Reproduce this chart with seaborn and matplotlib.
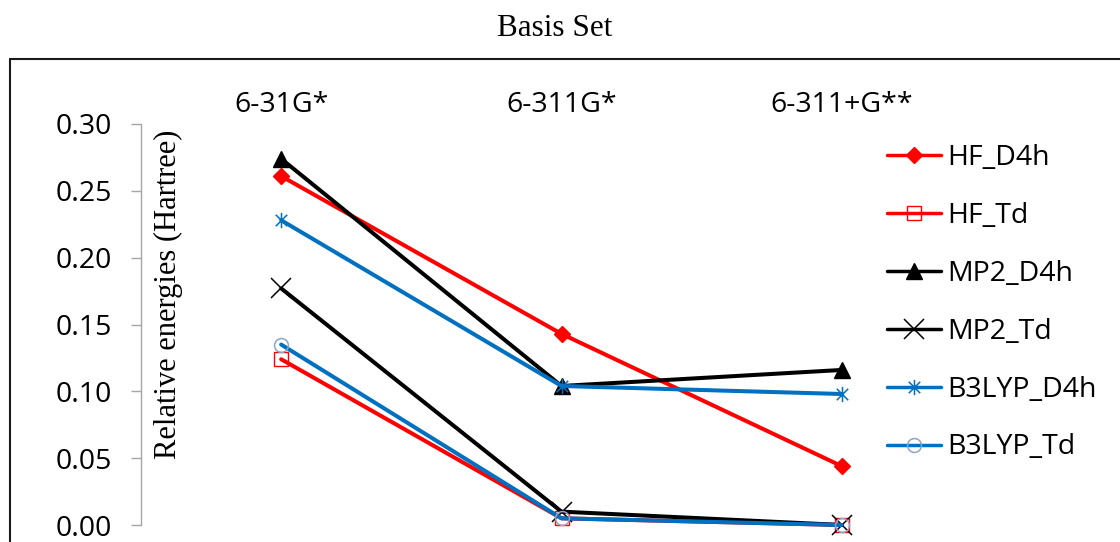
import matplotlib
matplotlib.use("Agg")
import matplotlib.pyplot as plt
from matplotlib.lines import Line2D
from matplotlib.path import Path
import seaborn as sns

# Basis sets (categories along the top axis)
basis_sets = ["6-31G*", "6-311G*", "6-311+G**"]

# Relative energies (Hartree) per method / symmetry
hf_d4h = [0.261, 0.143, 0.044]
hf_td = [0.124, 0.005, 0.000]
mp2_d4h = [0.274, 0.104, 0.116]
mp2_td = [0.177, 0.010, 0.000]
b3lyp_d4h = [0.228, 0.104, 0.098]
b3lyp_td = [0.135, 0.005, 0.000]

y_ticks = [0.00, 0.05, 0.10, 0.15, 0.20, 0.25, 0.30]

sns.set_theme(style="white")
plt.rcParams["font.family"] = ["Open Sans", "DejaVu Sans"]
plt.rcParams["text.color"] = "black"

RED = "#FF0000"
BLUE = "#0070C0"
BLACK = "#000000"
TXT = 20.5

# asterisk marker: an X crossed by a vertical bar
star = Path(
    [(-0.75, -0.75), (0.75, 0.75), (-0.75, 0.75), (0.75, -0.75), (0, -1.0), (0, 1.0)],
    [Path.MOVETO, Path.LINETO, Path.MOVETO, Path.LINETO, Path.MOVETO, Path.LINETO],
)

series = [
    ("HF_D4h", hf_d4h, dict(color=RED, marker="D", markersize=8,
                            markerfacecolor=RED, markeredgecolor=RED, markeredgewidth=1)),
    ("HF_Td", hf_td, dict(color=RED, marker="s", markersize=10,
                          markerfacecolor="none", markeredgecolor=RED, markeredgewidth=1)),
    ("MP2_D4h", mp2_d4h, dict(color=BLACK, marker="^", markersize=11,
                              markerfacecolor=BLACK, markeredgecolor=BLACK, markeredgewidth=1)),
    ("MP2_Td", mp2_td, dict(color=BLACK, marker="x", markersize=14,
                            markerfacecolor=BLACK, markeredgecolor=BLACK, markeredgewidth=1.1)),
    ("B3LYP_D4h", b3lyp_d4h, dict(color=BLUE, marker=star, markersize=11,
                                  markerfacecolor=BLUE, markeredgecolor=BLUE, markeredgewidth=1.1)),
    ("B3LYP_Td", b3lyp_td, dict(color=BLUE, marker="o", markersize=10,
                                markerfacecolor="none", markeredgecolor="#8EA5C3", markeredgewidth=1.1)),
]

fig = plt.figure(figsize=(11.2, 5.42), dpi=100)
ax = fig.add_axes([141 / 1120, 1 - 525 / 542, (982 - 141) / 1120, (525 - 124) / 542])

positions = list(range(len(basis_sets)))
for name, values, style in series:
    sns.lineplot(x=positions, y=values, ax=ax, label=name, linewidth=2.9,
                 errorbar=None, clip_on=False, **style)

ax.set_xlim(-0.5, len(basis_sets) - 0.5)
ax.set_ylim(0, 0.30)
ax.set_yticks(y_ticks)
ax.set_yticklabels([f"{v:.2f}" for v in y_ticks])
ax.set_xticks(positions)
ax.set_xticklabels(basis_sets)
ax.xaxis.tick_top()
ax.tick_params(axis="x", length=0, pad=3.5, labelsize=TXT, labelcolor="black")
ax.tick_params(axis="y", left=True, length=7.2, width=1, color="#A6A6A6",
               pad=14, labelsize=TXT, labelcolor="black", direction="out")
for side in ("top", "right", "bottom"):
    ax.spines[side].set_visible(False)
ax.spines["left"].set_color("#A6A6A6")
ax.spines["left"].set_linewidth(1)
ax.set_xlabel("")
ax.set_ylabel("")
ax.grid(False)

# axis titles in a serif face
fig.text(555 / 1120, 1 - 36 / 542, "Basis Set", ha="center", va="baseline",
         family="Liberation Serif", fontsize=22.5)
fig.text(168 / 1120, 1 - 294 / 542, "Relative energies (Hartree)", ha="center",
         va="center", rotation=90, family="Liberation Serif", fontsize=22)

leg = ax.legend(loc="upper left", bbox_to_anchor=(887 / 1120, 1 - 144 / 542),
                bbox_transform=fig.transFigure, frameon=False, fontsize=TXT,
                handlelength=1.9, handletextpad=0.21, labelspacing=1.05,
                borderaxespad=0, borderpad=0)
for h in leg.get_lines():
    h.set_linewidth(2.5)
for t in leg.get_texts():
    t.set_color("black")

# outer chart frame (left and top edges)
frame_kw = dict(color="#1A1A1A", linewidth=1.5, transform=fig.transFigure)
fig.add_artist(Line2D([10 / 1120, 10 / 1120], [0, 1 - 59 / 542], **frame_kw))
fig.add_artist(Line2D([10 / 1120, 1], [1 - 59 / 542, 1 - 59 / 542], **frame_kw))

fig.savefig("out.png", dpi=100, facecolor="white")
